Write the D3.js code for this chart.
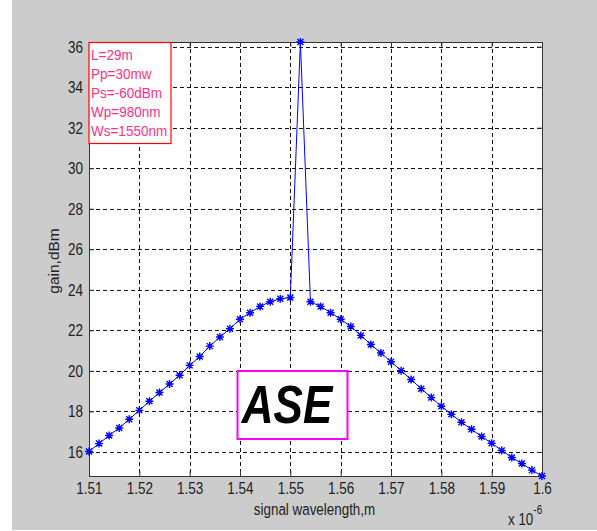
<!DOCTYPE html>
<html lang="en">
<head>
<meta charset="utf-8">
<title>ASE gain</title>
<script src="https://cdnjs.cloudflare.com/ajax/libs/d3/7.8.5/d3.min.js"></script>
<style>
  body { margin: 0; background: #fff; }
  svg text { font-family: "Liberation Sans", Arial, sans-serif; }
</style>
</head>
<body>
<div id="chart"></div>
<script>
// signal wavelength (x 10^-6 m) and gain (dBm)
const wavelength = [
  1.510, 1.512, 1.514, 1.516, 1.518, 1.520, 1.522, 1.524, 1.526, 1.528,
  1.530, 1.532, 1.534, 1.536, 1.538, 1.540, 1.542, 1.544, 1.546, 1.548,
  1.550, 1.552, 1.554, 1.556, 1.558, 1.560, 1.562, 1.564, 1.566, 1.568,
  1.570, 1.572, 1.574, 1.576, 1.578, 1.580, 1.582, 1.584, 1.586, 1.588,
  1.590, 1.592, 1.594, 1.596, 1.598, 1.600
];
const gain = [
  16.02, 16.41, 16.81, 17.18, 17.61, 18.05, 18.50, 18.93, 19.35, 19.78,
  20.27, 20.71, 21.22, 21.67, 22.08, 22.55, 22.87, 23.18, 23.41, 23.56,
  23.62, 36.23, 23.41, 23.18, 22.87, 22.55, 22.19, 21.75, 21.30, 20.88,
  20.45, 20.01, 19.57, 19.12, 18.68, 18.25, 17.86, 17.46, 17.12, 16.76,
  16.43, 16.07, 15.72, 15.43, 15.10, 14.81
];
const xTicks = [1.51, 1.52, 1.53, 1.54, 1.55, 1.56, 1.57, 1.58, 1.59, 1.6];
const xTickLabels = ["1.51", "1.52", "1.53", "1.54", "1.55", "1.56", "1.57", "1.58", "1.59", "1.6"];
const yTicks = [16, 18, 20, 22, 24, 26, 28, 30, 32, 34, 36];
const params = ["L=29m", "Pp=30mw", "Ps=-60dBm", "Wp=980nm", "Ws=1550nm"];

const W = 597, H = 531;
const pLeft = 89, pRight = 542, pTop = 42, pBottom = 476;
const stretch = 1.25; // matlab fonts look tall and narrow

const svg = d3.select("#chart").append("svg")
  .attr("width", W).attr("height", H);

// figure background
svg.append("rect").attr("x", 12).attr("y", 0).attr("width", W - 12).attr("height", 530)
  .attr("fill", "#cccccc");
svg.append("rect").attr("x", pLeft).attr("y", pTop)
  .attr("width", pRight - pLeft).attr("height", pBottom - pTop).attr("fill", "#fff");

const x = d3.scaleLinear().domain([1.51, 1.6]).range([pLeft, pRight]);
const y = d3.scaleLinear().domain(d3.extent(gain)).range([pBottom, pTop]);

// grid
const grid = svg.append("g").attr("stroke", "#111").attr("stroke-width", 1)
  .attr("stroke-dasharray", "4,3");
grid.selectAll(".gx").data(xTicks.slice(1, -1)).enter().append("line")
  .attr("x1", d => Math.round(x(d)) + 0.5).attr("x2", d => Math.round(x(d)) + 0.5)
  .attr("y1", pTop).attr("y2", pBottom);
grid.selectAll(".gy").data(yTicks).enter().append("line")
  .attr("y1", d => Math.round(y(d)) + 0.5).attr("y2", d => Math.round(y(d)) + 0.5)
  .attr("x1", pLeft).attr("x2", pRight);

// axes, ticks pointing in
const xAxis = d3.axisBottom(x).tickValues(xTicks).tickSize(-5).tickPadding(0)
  .tickFormat((d, i) => xTickLabels[i]);
const yAxis = d3.axisLeft(y).tickValues(yTicks).tickSize(-5).tickPadding(6);

const gx = svg.append("g").attr("transform", `translate(0,${pBottom})`).call(xAxis);
const gy = svg.append("g").attr("transform", `translate(${pLeft},0)`).call(yAxis);
svg.append("g").attr("transform", `translate(0,${pTop})`)
  .call(d3.axisTop(x).tickValues(xTicks).tickSize(-5).tickFormat(""));
svg.append("g").attr("transform", `translate(${pRight},0)`)
  .call(d3.axisRight(y).tickValues(yTicks).tickSize(-5).tickFormat(""));

svg.selectAll(".domain").attr("stroke", "#333");
svg.selectAll(".tick line").attr("stroke", "#333");
gx.selectAll("text").attr("font-size", 13.5).attr("fill", "#222")
  .attr("y", 6 / stretch).attr("transform", `scale(1,${stretch})`);
gy.selectAll("text").attr("font-size", 13.5).attr("fill", "#222")
  .attr("transform", `scale(1,${stretch})`);
svg.selectAll(".tick text").attr("font-family", "Liberation Sans, Arial, sans-serif");

// curve
const pts = wavelength.map((w, i) => [w, gain[i]]);
svg.append("path").datum(pts)
  .attr("fill", "none").attr("stroke", "#0000ff").attr("stroke-width", 1)
  .attr("d", d3.line().x(d => x(d[0])).y(d => y(d[1])));

const star = "M-4,0H4M0,-4V4M-3,-3L3,3M-3,3L3,-3";
svg.append("g").selectAll("path").data(pts).enter().append("path")
  .attr("d", star)
  .attr("transform", d => `translate(${x(d[0])},${y(d[1])})`)
  .attr("fill", "none").attr("stroke", "#0000ff").attr("stroke-width", 1.4);

// parameter box
svg.append("rect").attr("x", pLeft).attr("y", pTop + 0.5)
  .attr("width", 82).attr("height", 101)
  .attr("fill", "#fff").attr("stroke", "#ff0000").attr("stroke-width", 1.2);
svg.append("g").selectAll("text").data(params).enter().append("text")
  .attr("transform", (d, i) => `translate(${pLeft + 2},${60 + i * 19}) scale(1,1.1)`)
  .attr("font-size", 13.5).attr("fill", "#ff2f86").text(d => d);

// ASE label box
svg.append("rect").attr("x", 237.5).attr("y", 371)
  .attr("width", 110).attr("height", 68)
  .attr("fill", "#fff").attr("stroke", "#ff00ff").attr("stroke-width", 2);
svg.append("text")
  .attr("transform", `translate(287,423) scale(1,1.2)`)
  .attr("text-anchor", "middle").attr("font-size", 44)
  .attr("font-weight", "bold").attr("font-style", "italic").attr("fill", "#000")
  .text("ASE");

// axis labels
svg.append("text")
  .attr("transform", `translate(${(pLeft + pRight) / 2 - 1},515) scale(1,1.2)`)
  .attr("text-anchor", "middle").attr("font-size", 13.4).attr("fill", "#222")
  .text("signal wavelength,m");
svg.append("text")
  .attr("transform", `translate(59,${(pTop + pBottom) / 2 + 2}) rotate(-90)`)
  .attr("text-anchor", "middle").attr("font-size", 15.5).attr("fill", "#222")
  .text("gain,dBm");

const mult = svg.append("text")
  .attr("transform", "translate(508,525) scale(1,1.2)")
  .attr("font-size", 13.4).attr("fill", "#222");
mult.append("tspan").text("x 10");
mult.append("tspan").attr("dy", -9).attr("font-size", 10).text("-6");
</script>
</body>
</html>
